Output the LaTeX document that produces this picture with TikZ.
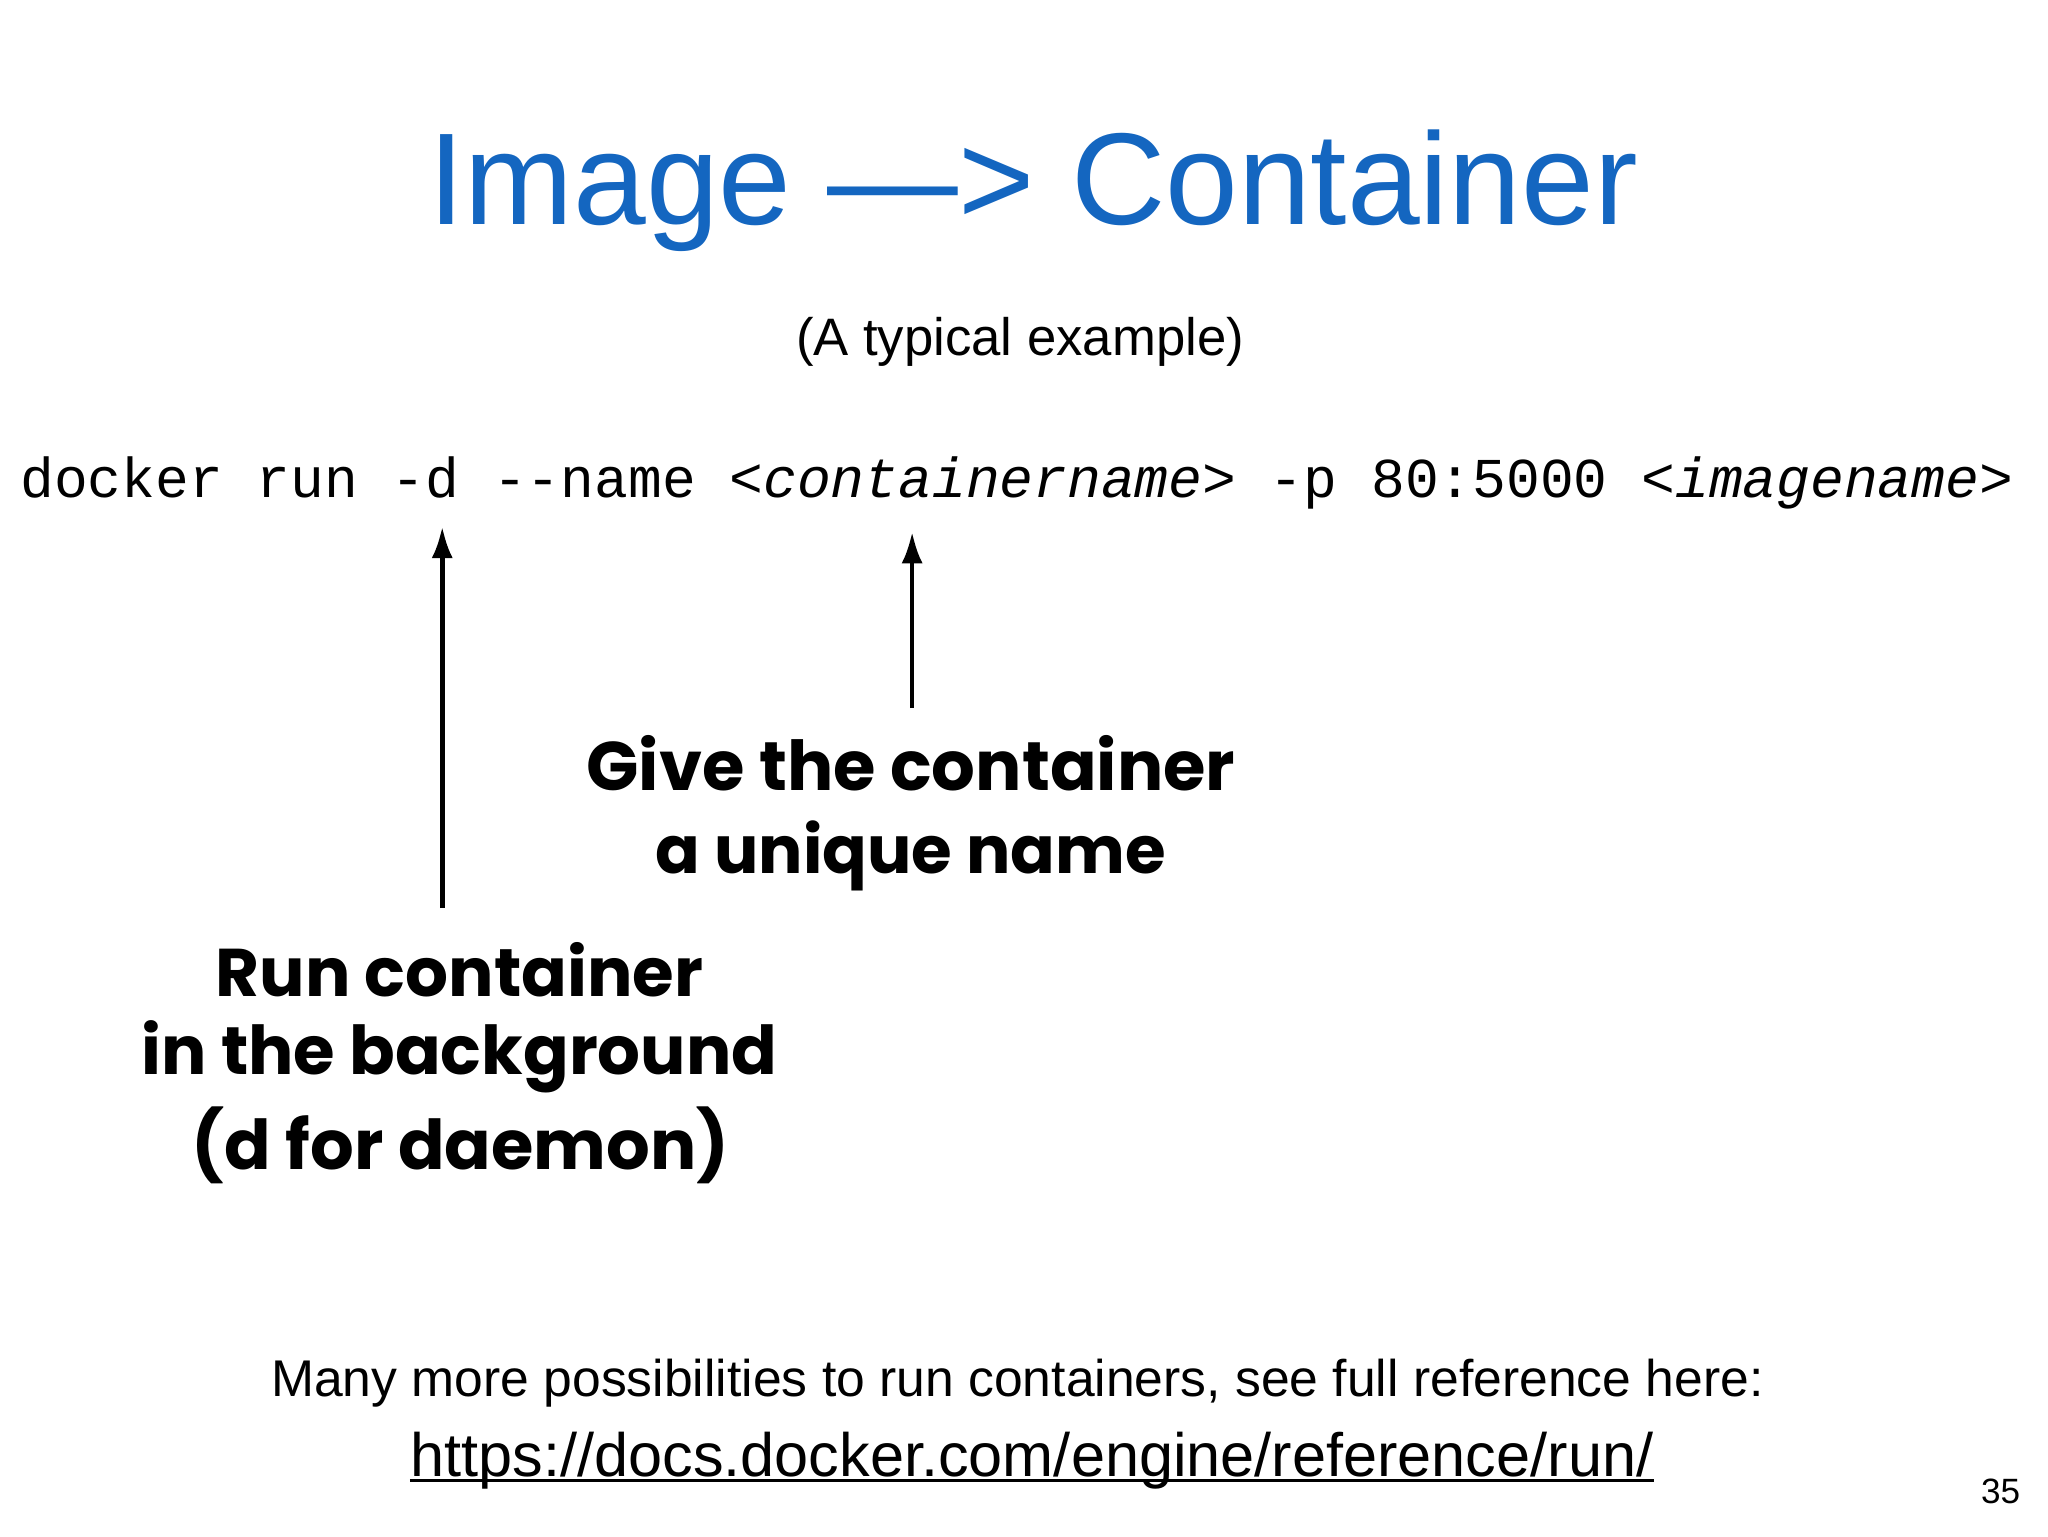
\documentclass[tikz,border=0pt]{standalone}
\usepackage{fontspec}
\setmainfont{Liberation Sans}
\newfontfamily\codefont{Liberation Mono}
\newfontfamily\handfont{Poppins}
\usetikzlibrary{arrows.meta}
\definecolor{titleblue}{HTML}{1466C0}
\newcommand{\fitw}[2]{\resizebox{#1\dimexpr0.3731pt\relax}{!}{#2}}
\begin{document}
\begin{tikzpicture}[x=0.013162cm,y=-0.013162cm,
  hand/.style={font=\handfont\bfseries, inner sep=0},
  arr/.style={-{Latex[length=9pt,width=6pt]}, line width=1.3pt}]
\useasboundingbox (0,0) rectangle (1556,1167);
\node[inner sep=0, text=titleblue] (title) at (785,145) {\fontsize{37.2}{44}\selectfont Image —> Container};
\node[inner sep=0] (sub) at (775,260) {\fontsize{15}{18}\selectfont (A typical example)};
\node[inner sep=0, anchor=west] (code) at (15,367) {\fitw{1520}{\codefont docker run -d --name <\textit{containername}> -p 80:5000 <\textit{imagename}>}};
\node[hand] (give1) at (692,580) {\fitw{495}{Give the container}};
\node[hand] (give2) at (692,650) {\fitw{389}{a unique name}};
\node[hand] (run1) at (349,737) {\fitw{372}{Run container}};
\node[hand] (run2) at (349,803) {\fitw{485}{in the background}};
\node[hand] (run3) at (350,870) {\fitw{410}{(d for daemon)}};
\coordinate (dtip) at (336,400);
\coordinate (ntip) at (693,404);
\coordinate (dstart) at (336,690);
\coordinate (nstart) at (693,538);
\draw[arr] (dstart) -- (dtip);
\draw[arr] (nstart) -- (ntip);
\node[inner sep=0] (more) at (773,1051) {\fontsize{14.7}{18}\selectfont Many more possibilities to run containers, see full reference here:};
\node[inner sep=0] (link) at (784,1110) {\fitw{948}{https://docs.docker.com/engine/reference/run/}};
\draw[line width=0.8pt] ([yshift=-1pt]link.base west) -- ([yshift=-1pt]link.base east);
\node[inner sep=0] (pg) at (1520,1133) {\fontsize{10}{12}\selectfont 35};
\end{tikzpicture}
\end{document}
